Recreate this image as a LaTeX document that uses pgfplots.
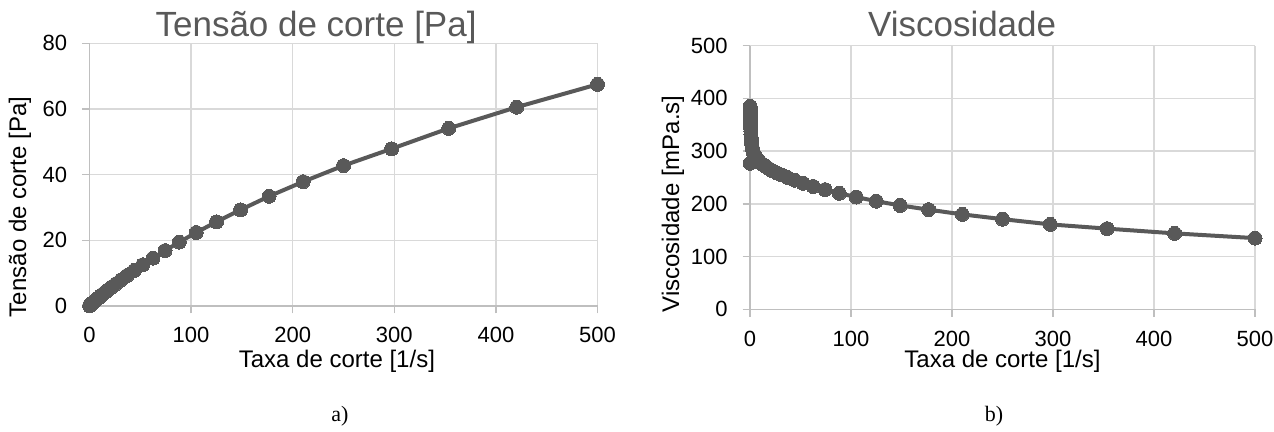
\documentclass[border=0pt]{standalone}
\usepackage{fontspec}
\setmainfont{Liberation Sans}
\newfontfamily\capfont{Liberation Serif}
\usepackage{pgfplots}
\usepackage{pgfplotstable}
\pgfplotsset{compat=1.18}

\definecolor{series}{HTML}{595959}
\definecolor{gridc}{HTML}{D9D9D9}
\definecolor{axisc}{HTML}{BFBFBF}

% rate [1/s], stress [Pa], viscosity [mPa.s]
\pgfplotstableread{
rate    stress  visc
500     67.50   135
420.45  60.55   144
353.55  54.09   153
297.30  47.87   161
250     42.75   171
210.22  37.84   180
176.78  33.41   189
148.65  29.28   197
125     25.63   205
105.11  22.39   213
88.39   19.45   220
74.33   16.87   227
62.5    14.56   233
52.56   12.56   239
44.19   10.83   245
37.16   9.29    250
31.25   7.97    255
26.28   6.81    259
22.10   5.81    263
18.58   4.96    267
15.63   4.24    271
13.14   3.60    274
11.05   3.06    277
9.29    2.60    280
7.81    2.21    283
6.57    1.88    286
5.52    1.60    289
4.65    1.36    292
3.91    1.15    295
3.28    0.977   298
2.76    0.834   302
2.32    0.710   306
1.95    0.605   310
1.64    0.517   315
1.38    0.442   320
1.16    0.378   326
0.977   0.324   332
0.821   0.277   338
0.691   0.238   344
0.581   0.203   350
0.488   0.174   356
0.411   0.149   362
0.345   0.127   367
0.290   0.108   372
0.244   0.092   376
0.205   0.078   380
0.173   0.066   383
0.145   0.056   385
0.122   0.034   277
}\rheo

\pgfplotsset{
  excel/.style={
    scale only axis,
    axis lines=left,
    axis line style={axisc, line width=0.75pt, -},
    grid=major,
    grid style={gridc, line width=0.75pt},
    tick align=outside,
    major tick length=3.7pt,
    tick style={axisc, line width=0.75pt},
    xmin=0, xmax=500,
    xtick={0,100,200,300,400,500},
    ticklabel style={font=\fontsize{11}{13}\selectfont, text=black},
    xticklabel style={yshift=-3.5pt},
    yticklabel style={xshift=-4pt},
    /pgf/number format/assume math mode=true,
    every axis title shift=0pt,
    title style={font=\fontsize{17.5}{20}\selectfont, text=series, anchor=base},
    label style={font=\fontsize{12}{14}\selectfont},
    clip=false,
  },
  serie/.style={series, line width=2pt, mark=*, mark size=3.5pt,
    mark options={fill=series, draw=series, line width=0pt}},
}

\begin{document}
\begin{tikzpicture}
\begin{axis}[excel,
  at={(44.75pt,63pt)}, anchor=south west,
  width=254pt, height=131.35pt,
  ymin=0, ymax=80, ytick={0,20,40,60,80},
  title={Tensão de corte [Pa]},
  title style={at={(rel axis cs:0.446,1.024)}},
  xlabel={Taxa de corte [1/s]},
  xlabel style={at={(rel axis cs:0.487,-0.235)}, anchor=base},
  ylabel={Tensão de corte [Pa]},
  ylabel style={at={(rel axis cs:-0.137,0.377)}, anchor=center},
]
\addplot[serie] table[x=rate, y=stress] {\rheo};
\end{axis}

\begin{axis}[excel,
  at={(375pt,61.35pt)}, anchor=south west,
  width=252.5pt, height=131.8pt,
  ymin=0, ymax=500, ytick={0,100,200,300,400,500},
  title={Viscosidade},
  title style={at={(rel axis cs:0.42,1.033)}},
  xlabel={Taxa de corte [1/s]},
  xlabel style={at={(rel axis cs:0.5,-0.222)}, anchor=base},
  ylabel={Viscosidade [mPa.s]},
  ylabel style={at={(rel axis cs:-0.1525,0.4)}, anchor=center},
]
\addplot[serie] table[x=rate, y=visc] {\rheo};
\end{axis}

\node[font=\capfont\fontsize{11}{13}\selectfont, anchor=base] at (170pt,5pt) {a)};
\node[font=\capfont\fontsize{11}{13}\selectfont, anchor=base] at (497pt,5pt) {b)};

\pgfresetboundingbox
\path (0,0) rectangle (637pt,216pt);
\end{tikzpicture}
\end{document}
